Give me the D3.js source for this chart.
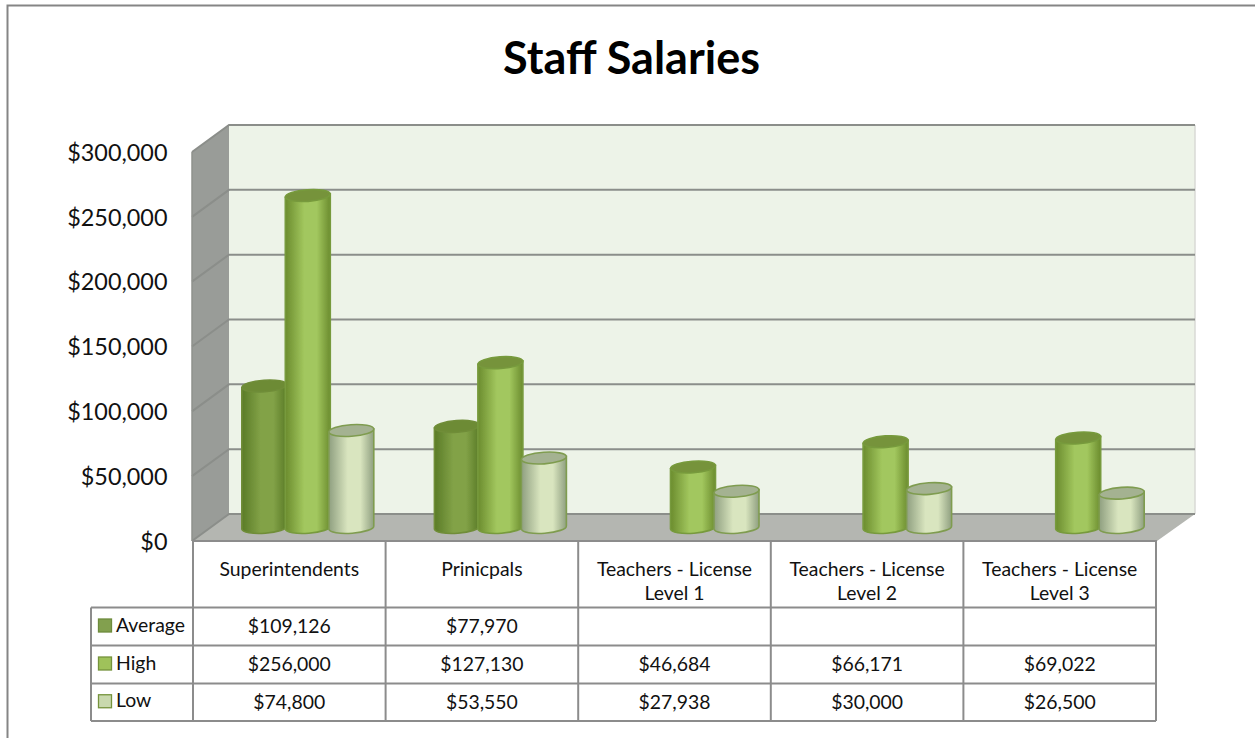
<!DOCTYPE html>
<html><head><meta charset="utf-8">
<script src="https://cdn.jsdelivr.net/npm/d3@7"></script>
<style>html,body{margin:0;padding:0;background:#fff}svg{display:block}text{font-family:Lato,"Open Sans",sans-serif;fill:#111}</style>
</head><body><svg id="c" width="1255" height="738"></svg>
<script>
const title = "Staff Salaries";
const categories = ["Superintendents","Prinicpals","Teachers - License Level 1","Teachers - License Level 2","Teachers - License Level 3"];
const categoryLines = [["Superintendents"],["Prinicpals"],["Teachers - License","Level 1"],["Teachers - License","Level 2"],["Teachers - License","Level 3"]];
const seriesNames = ["Average","High","Low"];
const average = [109126,77970,null,null,null];
const high = [256000,127130,46684,66171,69022];
const low = [74800,53550,27938,30000,26500];
const tickValues = [0,50000,100000,150000,200000,250000,300000];
const seriesValues = [average,high,low];

const styles = [
 {edge:"#5a7b27",mid:"#82a247",top:"#6d8b35",stroke:"#6f8d38",key:"#82a04e",keyS:"#6e8b3d"},
 {edge:"#6b8c2e",mid:"#a2c75e",top:"#76933a",stroke:"#779a3c",key:"#9fc25a",keyS:"#76933c"},
 {edge:"#8f9f80",mid:"#d9e5bf",top:"#a4b291",stroke:"#7f9c50",key:"#c9d9ae",keyS:"#76933c"}
];
const svg = d3.select("#c");
const defs = svg.append("defs");
styles.forEach((s,i)=>{
  const g = defs.append("linearGradient").attr("id","cyl"+i);
  [[0,s.edge],[.42,s.mid],[.7,s.mid],[1,s.edge]].forEach(([o,c])=>g.append("stop").attr("offset",o).attr("stop-color",c));
});
defs.append("filter").attr("id","soft").append("feGaussianBlur").attr("stdDeviation",0.5);

const backL=229, backR=1195, frontL=192, frontR=1157;
const yFront = d3.scaleLinear().domain([0,300000]).range([541,152]);
const yBack  = d3.scaleLinear().domain([0,300000]).range([514,125]);
const yBase  = d3.scaleLinear().domain([0,300000]).range([527.5,138.5]);
const xCat = d3.scaleBand().domain(categories).range([193,1156]);
const xSer = d3.scaleBand().domain(seriesNames).range([48.8,179.3]);

// outer frame
svg.append("path").attr("d","M7.5,738V5.5H1255").attr("fill","none").attr("stroke","#858585").attr("stroke-width",2);
// title
svg.append("text").attr("x",631.5).attr("y",74).attr("text-anchor","middle").attr("font-size",45).attr("font-weight",700).style("fill","#000").text(title);

// walls
const line = d3.line();
svg.append("path").attr("d",line([[frontL,152],[backL,125],[backL,514],[frontL,541]])+"Z").attr("fill","#999c98");
svg.append("rect").attr("x",backL).attr("y",125).attr("width",backR-backL).attr("height",389).attr("fill","#edf3e8");
svg.append("path").attr("d",line([[backR,125],[backR,514]])).attr("stroke","#d8dad6").attr("stroke-width",1.5);
svg.append("path").attr("d",line([[frontL,541],[backL,514],[backR,514],[frontR,541]])+"Z").attr("fill","#b4b6b1");
// gridlines
tickValues.forEach(t=>{
  const yb=yBack(t), yf=yFront(t);
  svg.append("path").attr("d",line([[frontL,yf],[backL,yb],[backR,yb]])).attr("fill","none").attr("stroke","#8b8e8a").attr("stroke-width",2);
});
svg.append("path").attr("d",line([[frontL,152],[frontL,541]])).attr("stroke","#8f928d").attr("stroke-width",1.5);

// cylinders
const tilt=1.7, ry=5.8, rot=-4;
const cyl=svg.append("g").attr("filter","url(#soft)");
seriesNames.forEach((name,si)=>{
  const s=styles[si];
  const data=categories.map((c,i)=>({c,v:seriesValues[si][i]})).filter(d=>d.v!==null);
  const w=xSer.bandwidth()+1.5, rx=w/2;
  const g=cyl.append("g").selectAll("g").data(data).join("g")
    .attr("transform",d=>`translate(${xCat(d.c)+xSer(name)},0)`);
  g.append("path").attr("d",d=>{
    const b=yBase(0), t=yBase(d.v);
    return `M0,${t+tilt}L0,${b+tilt}A${rx},${ry} ${rot} 0 0 ${w},${b-tilt}L${w},${t-tilt}Z`;
  }).attr("fill",`url(#cyl${si})`).attr("stroke",s.stroke).attr("stroke-width",1.6);
  g.append("ellipse").attr("rx",rx).attr("ry",ry)
    .attr("transform",d=>`translate(${rx},${yBase(d.v)}) rotate(${rot})`)
    .attr("fill",s.top).attr("stroke",s.stroke).attr("stroke-width",1.6);
});

// value axis
const axis=d3.axisLeft(yFront).tickValues(tickValues).tickSize(0).tickPadding(0).tickFormat(d3.format("$,"));
const ax=svg.append("g").attr("transform","translate(167.5,0.7)").call(axis);
ax.select(".domain").remove();
ax.selectAll("text").attr("font-size",23.4).attr("font-family",'Lato,"Open Sans",sans-serif').style("fill","#111");

// data table
const rowYs=[541,607.5,645.5,683.5,721];
const colXs=categories.map(c=>xCat(c)).concat([1156]);
const tableLeft=91;
const gridColor="#8c8c8c";
const tbl=svg.append("g").attr("fill","none").attr("stroke",gridColor).attr("stroke-width",2);
tbl.append("path").attr("d",`M${frontL},541H${frontR}`);
colXs.forEach(x=>tbl.append("path").attr("d",`M${x},541V721`));
rowYs.slice(1).forEach(y=>tbl.append("path").attr("d",`M${tableLeft},${y}H1156`));
tbl.append("path").attr("d",`M${tableLeft},607.5V721`);

const fs=19.4;
const fmt=d3.format("$,");
categories.forEach((c,i)=>{
  const cx=xCat(c)+xCat.bandwidth()/2;
  const lines=categoryLines[i];
  lines.forEach((l,k)=>{
    svg.append("text").attr("x",cx).attr("y",575.5+k*24).attr("text-anchor","middle").attr("font-size",fs).text(l);
  });
  seriesValues.forEach((vals,si)=>{
    if(vals[i]===null) return;
    svg.append("text").attr("x",cx).attr("y",(rowYs[si+1]+rowYs[si+2])/2+6.5).attr("text-anchor","middle").attr("font-size",fs).text(fmt(vals[i]));
  });
});
seriesNames.forEach((n,si)=>{
  const yc=(rowYs[si+1]+rowYs[si+2])/2-1.5;
  svg.append("rect").attr("x",98.5).attr("y",yc-6).attr("width",13).attr("height",13).attr("fill",styles[si].key).attr("stroke",styles[si].keyS).attr("stroke-width",1.3);
  svg.append("text").attr("x",116).attr("y",yc+6.5).attr("font-size",fs).text(n);
});
</script></body></html>
